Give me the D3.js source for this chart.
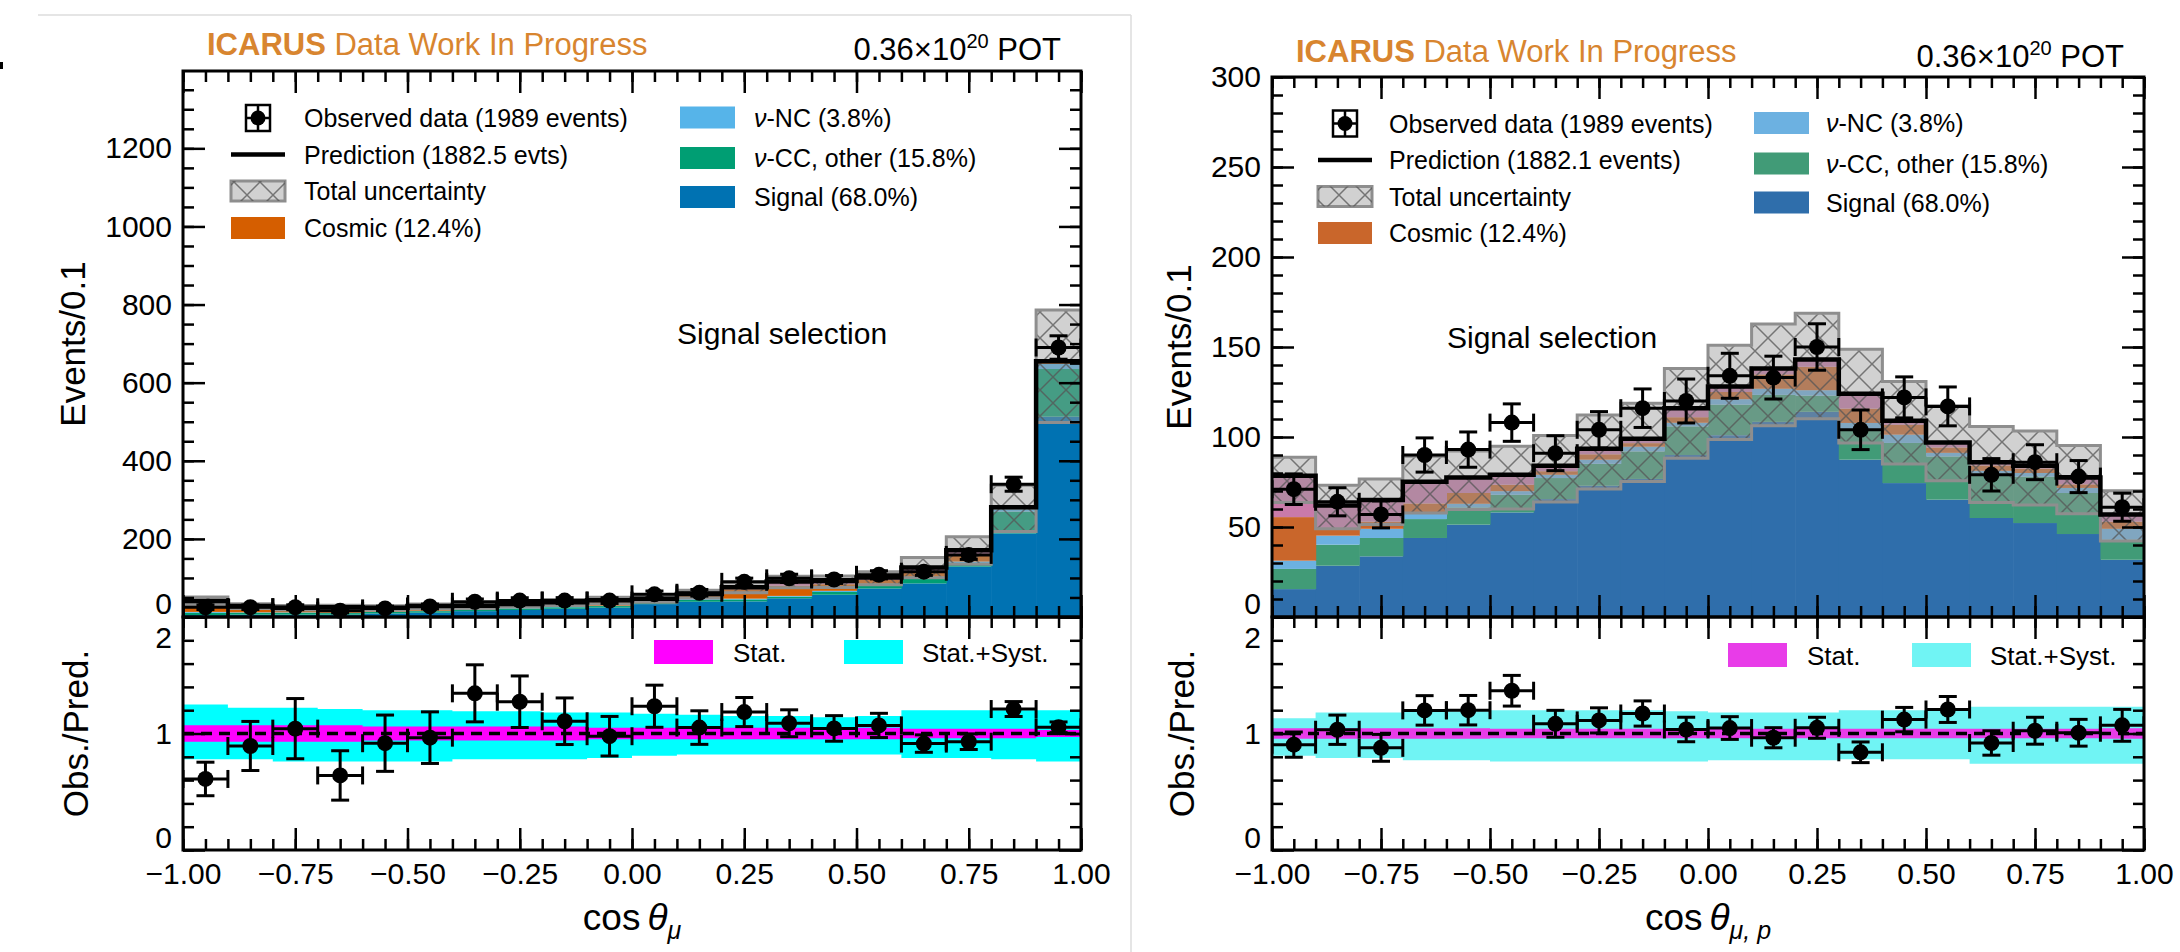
<!DOCTYPE html>
<html>
<head>
<meta charset="utf-8">
<script src="https://cdn.jsdelivr.net/npm/d3@7"></script>
<style>
  body { margin: 0; background: #fff; }
  svg text { font-family: 'Liberation Sans', Arial, Helvetica, sans-serif; }
</style>
</head>
<body>
<svg id="chart" width="2180" height="952"></svg>
<script>
// bins in cos(theta), 20 bins of 0.1
const binEdges = [-1.0, -0.9, -0.8, -0.7, -0.6, -0.5, -0.4, -0.3, -0.2, -0.1, 0.0,
	0.1, 0.2, 0.3, 0.4, 0.5, 0.6, 0.7, 0.8, 0.9, 1.0]
const xTicks = [-1, -0.75, -0.5, -0.25, 0, 0.25, 0.5, 0.75, 1]
const xTickLabels = ['\u22121.00', '\u22120.75', '\u22120.50', '\u22120.25', '0.00', '0.25', '0.50', '0.75', '1.00']
const ratioTicks = [0, 1, 2]

// left plot: cos theta_mu
const muYTicks = [0, 200, 400, 600, 800, 1000, 1200]
const muData = [25, 25, 25, 16, 22, 27, 39, 42, 42, 42, 58, 62, 90, 99, 96, 108, 116, 159, 340, 690]
const muDataErr = [5.9, 5.9, 6.2, 5.3, 5.8, 6.2, 7.1, 7.3, 7.6, 7.3, 8.5, 8.5, 9.5, 10.5, 10.1, 10.5, 9.5, 11.5, 18, 30]
const muSignal = [5, 6, 6, 6, 9, 11, 15, 18, 21, 24, 33, 39, 40, 48, 57, 73, 86, 129, 214, 513]
const muCCOther = [6, 5, 5, 4, 4, 4, 4, 4, 4, 4, 5, 5, 5, 4, 7, 9, 13, 9, 56, 122]
const muNC = [2, 1, 1, 1, 1, 1, 1, 1, 1, 1, 2, 2, 2, 2, 3, 3, 4, 4, 6, 13]
const muCosmic = [22, 12, 9, 11, 8, 9, 7, 8, 9, 11, 5, 10, 24, 26, 17, 10, 14, 17, 3, 4]
const muOther = [6, 4, 3, 3, 2, 3, 2, 2, 3, 3, 2, 3, 5, 11, 8, 6, 10, 12, 2, 3]
const muStatErr = [0.07, 0.07, 0.07, 0.07, 0.06, 0.06, 0.06, 0.06, 0.06, 0.05, 0.05, 0.05, 0.05, 0.05, 0.05, 0.05, 0.04, 0.04, 0.04, 0.03]
const muSystHi = [1.25, 1.22, 1.22, 1.21, 1.2, 1.2, 1.19, 1.19, 1.18, 1.18, 1.17, 1.16, 1.15, 1.15, 1.14, 1.15, 1.2, 1.2, 1.2, 1.2]
const muSystLo = [0.78, 0.78, 0.76, 0.76, 0.76, 0.76, 0.78, 0.78, 0.78, 0.79, 0.81, 0.82, 0.82, 0.82, 0.82, 0.82, 0.79, 0.79, 0.78, 0.76]

// right plot: cos theta_mu,p
const mupYTicks = [0, 50, 100, 150, 200, 250, 300]
const mupData = [71, 64, 57, 90, 93, 108, 91, 104, 116, 120, 134, 133, 150, 104, 122, 117, 79, 86, 78, 61]
const mupDataErr = [8.5, 7.8, 7.5, 9.5, 9.8, 10.4, 9.7, 10.1, 10.7, 12.2, 12.5, 11.9, 12.9, 11, 11.4, 10.8, 9, 9.7, 8.9, 7.8]
const mupSignal = [15.5, 28.5, 33.7, 43.9, 51.3, 58.1, 65.5, 72.9, 76.7, 90, 101, 108.4, 114, 87.4, 74.4, 65.2, 55, 52.2, 46.1, 31.8]
const mupCCOther = [11.2, 11.7, 10.2, 10.5, 9.6, 9.8, 11.7, 12.2, 15.3, 15.9, 17, 15, 9, 16.6, 22.3, 24, 24.7, 25.8, 22.8, 11.2]
const mupNC = [4.6, 5, 5.1, 3.7, 2, 2, 1.8, 2.3, 2.6, 2, 3, 3.4, 3, 3.8, 4.6, 2, 1.5, 2, 2.8, 6]
const mupCosmic = [24.2, 4, 4, 5, 6, 3.6, 2, 3, 2, 3.1, 4, 8, 13, 8, 5.5, 3, 3, 2.5, 2, 4]
const mupOther = [23, 12.8, 12, 12, 8.6, 5.5, 3, 3.1, 2.4, 5, 3, 3.2, 4, 8.2, 2.2, 2.8, 1.8, 1.5, 3.8, 4]
const mupStatErr = [0.045, 0.045, 0.045, 0.045, 0.045, 0.04, 0.04, 0.04, 0.04, 0.04, 0.04, 0.04, 0.04, 0.04, 0.04, 0.04, 0.04, 0.04, 0.04, 0.045]
const mupSystHi = [1.13, 1.18, 1.18, 1.19, 1.19, 1.2, 1.2, 1.2, 1.2, 1.19, 1.18, 1.18, 1.18, 1.2, 1.2, 1.21, 1.23, 1.23, 1.23, 1.23]
const mupSystLo = [0.81, 0.79, 0.79, 0.77, 0.77, 0.76, 0.76, 0.76, 0.76, 0.76, 0.77, 0.77, 0.77, 0.78, 0.78, 0.78, 0.74, 0.74, 0.74, 0.74]

const svg = d3.select('#chart')
const FONT = "'Liberation Sans', Arial, Helvetica, sans-serif"
const DEJAVU = "'DejaVu Sans', sans-serif"

//hatch for the uncertainty band
const defs = svg.append('defs')
defs.append('pattern')
	.attr('id', 'hatch')
	.attr('patternUnits', 'userSpaceOnUse')
	.attr('width', 26)
	.attr('height', 26)
	.append('path')
	.attr('d', 'M0,0L26,26M26,0L0,26')
	.attr('stroke', '#555')
	.attr('stroke-width', 1.5)
	.attr('stroke-opacity', 0.75)

//page dividers
svg.append('line').attr('x1', 38).attr('x2', 1131).attr('y1', 15).attr('y2', 15)
	.attr('stroke', '#dcdcdc').attr('stroke-width', 1.5)
svg.append('line').attr('x1', 1131).attr('x2', 1131).attr('y1', 15).attr('y2', 952)
	.attr('stroke', '#dcdcdc').attr('stroke-width', 1.5)
svg.append('rect').attr('x', 0).attr('y', 62).attr('width', 3).attr('height', 7).attr('fill', '#000')

const at = (arr, i) => arr[Math.min(i, arr.length - 1)]
const edgeIdx = d3.range(binEdges.length)

function errPoints(g, pts, x, y, cap) {
	const s = g.append('g').attr('stroke', '#000').attr('stroke-width', 3)
	pts.forEach(d => {
		const cx = x((d.lo + d.hi) / 2), cy = y(d.v)
		const yLo = y(d.v - d.e), yHi = y(d.v + d.e)
		s.append('line').attr('x1', cx).attr('x2', cx).attr('y1', yLo).attr('y2', yHi)
		s.append('line').attr('x1', cx - cap).attr('x2', cx + cap).attr('y1', yLo).attr('y2', yLo)
		s.append('line').attr('x1', cx - cap).attr('x2', cx + cap).attr('y1', yHi).attr('y2', yHi)
		s.append('line').attr('x1', x(d.lo)).attr('x2', x(d.hi)).attr('y1', cy).attr('y2', cy)
		s.append('line').attr('x1', x(d.lo)).attr('x2', x(d.lo)).attr('y1', cy - cap).attr('y2', cy + cap)
		s.append('line').attr('x1', x(d.hi)).attr('x2', x(d.hi)).attr('y1', cy - cap).attr('y2', cy + cap)
		g.append('circle').attr('cx', cx).attr('cy', cy).attr('r', 8).attr('fill', '#000')
	})
}

function addAxis(axis, tx, ty) {
	const a = svg.append('g').attr('transform', 'translate(' + tx + ',' + ty + ')').call(axis)
	a.select('.domain').remove()
	a.selectAll('line').attr('stroke', '#000').attr('stroke-width', 2.5)
	a.selectAll('text').attr('font-size', 30).attr('font-family', FONT).attr('fill', '#000')
	return a
}

function drawPanel(p) {
	const x = d3.scaleLinear().domain([-1, 1]).range([p.left, p.right])
	const y = d3.scaleLinear().domain([0, p.yMax]).range([p.mid, p.top])
	const yr = d3.scaleLinear().domain([0, 2]).range([p.bottom, p.mid])

	const keys = ['signal', 'ccOther', 'nc', 'cosmic', 'other']
	const rows = p.data.map((d, i) => ({
		lo: binEdges[i], hi: binEdges[i + 1],
		signal: p.signal[i], ccOther: p.ccOther[i], nc: p.nc[i], cosmic: p.cosmic[i], other: p.other[i]
	}))
	const layers = d3.stack().keys(keys)(rows)
	const pred = layers[layers.length - 1].map(d => d[1])

	svg.append('clipPath').attr('id', 'clip-' + p.id)
		.append('rect')
		.attr('x', p.left).attr('y', p.top)
		.attr('width', p.right - p.left).attr('height', p.bottom - p.top)
	const plot = svg.append('g').attr('clip-path', 'url(#clip-' + p.id + ')')

	//stacked MC
	plot.selectAll('g.layer')
		.data(layers)
		.enter()
		.append('g')
		.attr('fill', d => p.colors[d.key])
		.selectAll('rect')
		.data(d => d)
		.enter()
		.append('rect')
		.attr('x', d => x(d.data.lo))
		.attr('width', d => x(d.data.hi) - x(d.data.lo) + 0.6)
		.attr('y', d => y(d[1]))
		.attr('height', d => Math.max(0, y(d[0]) - y(d[1])))

	//total uncertainty band
	const band = d3.area().curve(d3.curveStepAfter)
		.x(i => x(binEdges[i]))
		.y0(i => y(at(pred, i) * at(p.systLo, i)))
		.y1(i => y(at(pred, i) * at(p.systHi, i)))
	plot.append('path').attr('d', band(edgeIdx)).attr('fill', '#9a9a9a').attr('fill-opacity', 0.45)
	plot.append('path').attr('d', band(edgeIdx)).attr('fill', 'url(#hatch)')
	plot.append('path').attr('d', band(edgeIdx)).attr('fill', 'none')
		.attr('stroke', '#8e8e8e').attr('stroke-width', 3)

	//prediction
	const step = d3.line().curve(d3.curveStepAfter)
		.x(i => x(binEdges[i]))
		.y(i => y(at(pred, i)))
	plot.append('path').attr('d', step(edgeIdx)).attr('fill', 'none')
		.attr('stroke', '#000').attr('stroke-width', 4.5)

	const pts = p.data.map((v, i) => ({ lo: binEdges[i], hi: binEdges[i + 1], v: v, e: p.dataErr[i] }))
	errPoints(plot, pts, x, y, 9)

	//ratio panel
	const cyan = d3.area().curve(d3.curveStepAfter)
		.x(i => x(binEdges[i]))
		.y0(i => yr(at(p.systLo, i)))
		.y1(i => yr(at(p.systHi, i)))
	const magenta = d3.area().curve(d3.curveStepAfter)
		.x(i => x(binEdges[i]))
		.y0(i => yr(1 - at(p.statErr, i)))
		.y1(i => yr(1 + at(p.statErr, i)))
	plot.append('path').attr('d', cyan(edgeIdx)).attr('fill', p.colors.syst)
	plot.append('path').attr('d', magenta(edgeIdx)).attr('fill', p.colors.stat)
	plot.append('line')
		.attr('x1', p.left).attr('x2', p.right)
		.attr('y1', yr(1)).attr('y2', yr(1))
		.attr('stroke', '#000').attr('stroke-width', 3.5).attr('stroke-dasharray', '11,7')
	const rPts = pts.map((d, i) => ({ lo: d.lo, hi: d.hi, v: d.v / pred[i], e: d.e / pred[i] }))
	errPoints(plot, rPts, x, yr, 9)

	//axes, ticks inside on all sides
	const xMinor = d3.range(-1, 1.001, 0.05)
	const yMinor = d3.range(0, p.yMax + 0.001, p.yMinorStep)
	const rMinor = d3.range(0, 2.001, 0.2)
	const yMaj = addAxis(d3.axisLeft(y).tickValues(p.yTicks).tickSize(-22).tickPadding(11).tickFormat(d3.format('d')), p.left, 0)
	addAxis(d3.axisLeft(y).tickValues(yMinor).tickSize(-11).tickFormat(''), p.left, 0)
	addAxis(d3.axisRight(y).tickValues(p.yTicks).tickSize(-22).tickFormat(''), p.right, 0)
	addAxis(d3.axisRight(y).tickValues(yMinor).tickSize(-11).tickFormat(''), p.right, 0)
	const rMaj = addAxis(d3.axisLeft(yr).tickValues(ratioTicks).tickSize(-22).tickPadding(11).tickFormat(d3.format('d')), p.left, 0)
	addAxis(d3.axisLeft(yr).tickValues(rMinor).tickSize(-11).tickFormat(''), p.left, 0)
	addAxis(d3.axisRight(yr).tickValues(ratioTicks).tickSize(-22).tickFormat(''), p.right, 0)
	addAxis(d3.axisRight(yr).tickValues(rMinor).tickSize(-11).tickFormat(''), p.right, 0)
	//labels sharing a corner are pulled apart so they do not sit on each other
	yMaj.selectAll('text').filter(d => d === 0).attr('dy', '-0.13em')
	rMaj.selectAll('text').filter(d => d === 2).attr('dy', '1em')
	rMaj.selectAll('text').filter(d => d === 0).attr('dy', '-0.07em')
	;[p.top, p.mid].forEach(ty => {
		addAxis(d3.axisTop(x).tickValues(xTicks).tickSize(-22).tickFormat(''), 0, ty)
		addAxis(d3.axisTop(x).tickValues(xMinor).tickSize(-11).tickFormat(''), 0, ty)
	})
	;[p.mid, p.bottom].forEach(ty => {
		const lab = ty === p.bottom
		addAxis(d3.axisBottom(x).tickValues(xTicks).tickSize(-22).tickPadding(13)
			.tickFormat((d, i) => lab ? xTickLabels[i] : ''), 0, ty)
		addAxis(d3.axisBottom(x).tickValues(xMinor).tickSize(-11).tickFormat(''), 0, ty)
	})

	svg.append('rect').attr('x', p.left).attr('y', p.top)
		.attr('width', p.right - p.left).attr('height', p.mid - p.top)
		.attr('fill', 'none').attr('stroke', '#000').attr('stroke-width', 3)
	svg.append('rect').attr('x', p.left).attr('y', p.mid)
		.attr('width', p.right - p.left).attr('height', p.bottom - p.mid)
		.attr('fill', 'none').attr('stroke', '#000').attr('stroke-width', 3)

	//axis titles
	svg.append('text')
		.attr('transform', 'translate(' + p.yLabX + ',' + (p.top + p.mid) / 2 + ') rotate(-90)')
		.attr('text-anchor', 'middle').attr('font-family', DEJAVU).attr('font-size', 35)
		.text('Events/0.1')
	svg.append('text')
		.attr('transform', 'translate(' + (p.yLabX + 3) + ',' + (p.mid + p.bottom) / 2 + ') rotate(-90)')
		.attr('text-anchor', 'middle').attr('font-family', DEJAVU).attr('font-size', 35)
		.text('Obs./Pred.')
	const xl = svg.append('text')
		.attr('x', (p.left + p.right) / 2).attr('y', 930)
		.attr('text-anchor', 'middle').attr('font-family', DEJAVU).attr('font-size', 37)
	xl.append('tspan').text('cos')
	xl.append('tspan').attr('dx', 7).attr('font-style', 'italic').text('\u03b8')
	xl.append('tspan').attr('dy', 9).attr('font-size', 25).attr('font-style', 'italic').text(p.sub)

	//header texts
	const t = svg.append('text').attr('x', p.titleX).attr('y', p.titleY)
		.attr('font-size', 31).attr('fill', '#d8852f')
	t.append('tspan').attr('font-weight', 'bold').text('ICARUS')
	t.append('tspan').text(' Data Work In Progress')
	const pot = svg.append('text').attr('x', p.right - 20).attr('y', p.titleY + 5)
		.attr('text-anchor', 'end').attr('font-size', 31)
	pot.append('tspan').text('0.36\u00d710')
	pot.append('tspan').attr('dy', -12).attr('font-size', 20).text('20')
	pot.append('tspan').attr('dy', 12).text(' POT')
	svg.append('text').attr('x', p.selX).attr('y', p.selY)
		.attr('font-size', 30).text('Signal selection')

	//legend, first column
	const L = p.leg
	const lt = (tx, ty, txt) => svg.append('text').attr('x', tx).attr('y', ty + 9).attr('font-size', 25).text(txt)
	const mk = svg.append('g').attr('stroke', '#000').attr('stroke-width', 2.5)
	const mx = L.x1 + 27, my = L.rows1[0]
	mk.append('line').attr('x1', mx).attr('x2', mx).attr('y1', my - 13).attr('y2', my + 13)
	mk.append('line').attr('x1', mx - 12).attr('x2', mx + 12).attr('y1', my).attr('y2', my)
	mk.append('rect').attr('x', mx - 12).attr('y', my - 13).attr('width', 24).attr('height', 26).attr('fill', 'none')
	svg.append('circle').attr('cx', mx).attr('cy', my).attr('r', 7.5)
	lt(L.t1, L.rows1[0], 'Observed data (1989 events)')
	svg.append('line').attr('x1', L.x1).attr('x2', L.x1 + 54)
		.attr('y1', L.rows1[1]).attr('y2', L.rows1[1])
		.attr('stroke', '#000').attr('stroke-width', 4.5)
	lt(L.t1, L.rows1[1], p.predText)
	;['#9a9a9a', 'url(#hatch)'].forEach((f, k) => {
		svg.append('rect').attr('x', L.x1).attr('y', L.rows1[2] - 10).attr('width', 54).attr('height', 20)
			.attr('fill', f).attr('fill-opacity', k ? 1 : 0.45)
			.attr('stroke', k ? 'none' : '#8e8e8e').attr('stroke-width', 3)
	})
	lt(L.t1, L.rows1[2], 'Total uncertainty')
	svg.append('rect').attr('x', L.x1).attr('y', L.rows1[3] - 11).attr('width', 54).attr('height', 22)
		.attr('fill', p.colors.cosmic)
	lt(L.t1, L.rows1[3], 'Cosmic (12.4%)')

	//legend, second column
	const col2 = [['nc', '-NC (3.8%)', true], ['ccOther', '-CC, other (15.8%)', true], ['signal', 'Signal (68.0%)', false]]
	col2.forEach((c, k) => {
		svg.append('rect').attr('x', L.x2).attr('y', L.rows2[k] - 11).attr('width', 55).attr('height', 22)
			.attr('fill', p.colors[c[0]])
		const tt = svg.append('text').attr('x', L.t2).attr('y', L.rows2[k] + 9).attr('font-size', 25)
		if (c[2]) tt.append('tspan').attr('font-style', 'italic').text('\u03bd')
		tt.append('tspan').text(c[1])
	})

	//ratio legend
	const R = p.rleg
	svg.append('rect').attr('x', R.x1).attr('y', R.y).attr('width', 59).attr('height', 24).attr('fill', p.colors.stat)
	svg.append('text').attr('x', R.x1 + 79).attr('y', R.y + 22).attr('font-size', 26).text('Stat.')
	svg.append('rect').attr('x', R.x2).attr('y', R.y).attr('width', 59).attr('height', 24).attr('fill', p.colors.syst)
	svg.append('text').attr('x', R.x2 + 78).attr('y', R.y + 22).attr('font-size', 26).text('Stat.+Syst.')
}

drawPanel({
	id: 'mu', left: 183, right: 1081, top: 71, mid: 617, bottom: 850,
	yMax: 1398, yTicks: muYTicks, yMinorStep: 50,
	data: muData, dataErr: muDataErr,
	signal: muSignal, ccOther: muCCOther, nc: muNC, cosmic: muCosmic, other: muOther,
	statErr: muStatErr, systHi: muSystHi, systLo: muSystLo,
	colors: { signal: '#0072b2', ccOther: '#009e73', nc: '#56b4e9', cosmic: '#d55e00', other: '#cc79a7', stat: '#ff00ff', syst: '#00ffff' },
	yLabX: 85, sub: '\u03bc',
	titleX: 207, titleY: 55, selX: 677, selY: 344,
	predText: 'Prediction (1882.5 evts)',
	leg: { x1: 231, t1: 304, rows1: [118, 154.5, 191, 228], x2: 680, t2: 754, rows2: [117.5, 158, 197] },
	rleg: { x1: 654, x2: 844, y: 640 }
})

drawPanel({
	id: 'mup', left: 1272, right: 2144, top: 77, mid: 617, bottom: 850,
	yMax: 300, yTicks: mupYTicks, yMinorStep: 10,
	data: mupData, dataErr: mupDataErr,
	signal: mupSignal, ccOther: mupCCOther, nc: mupNC, cosmic: mupCosmic, other: mupOther,
	statErr: mupStatErr, systHi: mupSystHi, systLo: mupSystLo,
	colors: { signal: '#2f6eab', ccOther: '#419b77', nc: '#6cb1e1', cosmic: '#c9662b', other: '#c97aa9', stat: '#e83ce8', syst: '#70f4f4' },
	yLabX: 1191, sub: '\u03bc, p',
	titleX: 1296, titleY: 62, selX: 1447, selY: 348,
	predText: 'Prediction (1882.1 events)',
	leg: { x1: 1318, t1: 1389, rows1: [123.5, 160, 196.5, 233], x2: 1754, t2: 1826, rows2: [123, 163.5, 202.5] },
	rleg: { x1: 1728, x2: 1912, y: 643 }
})
</script>
</body>
</html>
